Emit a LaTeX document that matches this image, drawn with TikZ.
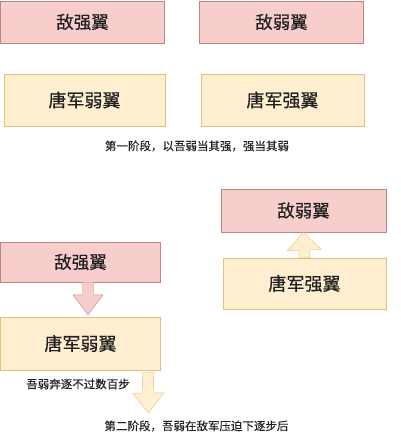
\documentclass[tikz,border=0pt]{standalone}
\usepackage{fontspec}
\newfontfamily\cjk[FakeBold=0.6]{Noto Sans CJK SC}
\newfontfamily\cjksmall[FakeBold=0.3]{Noto Sans CJK SC}
\usetikzlibrary{calc}

\definecolor{pinkfill}{HTML}{F8CECC}
\definecolor{pinkline}{HTML}{BC8686}
\definecolor{yellowfill}{HTML}{FFEFD0}
\definecolor{yellowline}{HTML}{DCC27A}
\definecolor{textdark}{HTML}{222222}

% hollow block arrow: style, from, to, head half width, head length
\newcommand{\blockarrow}[5]{%
  \coordinate (ba-head) at ($(#3)!#5!(#2)$);
  \draw[#1] ($(#2)!5.5pt!90:(#3)$) -- ($(ba-head)!5.5pt!90:(#3)$) -- ($(ba-head)!#4!90:(#3)$)
    -- (#3) -- ($(ba-head)!#4!-90:(#3)$) -- ($(ba-head)!5.5pt!-90:(#3)$) -- ($(#2)!5.5pt!-90:(#3)$) -- cycle;
}

\begin{document}
\begin{tikzpicture}[x=1pt, y=-1pt,
  enemy/.style={rectangle, draw=pinkline, fill=pinkfill, minimum width=164pt, minimum height=42pt, inner sep=0pt, text=textdark, font=\cjk\fontsize{17.5}{20}\selectfont},
  tang/.style={rectangle, draw=yellowline, fill=yellowfill, minimum width=162pt, minimum height=52pt, inner sep=0pt, text=textdark, font=\cjk\fontsize{18}{20}\selectfont},
  caption/.style={inner sep=0pt, text=textdark, font=\cjksmall\fontsize{11.5}{14}\selectfont},
  pinkarrow/.style={draw=pinkline, fill=pinkfill, line join=miter},
  yellowarrow/.style={draw=yellowline, fill=yellowfill, line join=miter}
]
\useasboundingbox (0,0) rectangle (400,432);

% stage one
\node[enemy] (es1) at (82.5,22) {敌强翼};
\node[enemy] (ew1) at (281.5,22) {敌弱翼};
\node[tang, minimum width=161pt] (tw1) at (84.5,100) {唐军弱翼};
\node[tang, minimum width=163pt] (ts1) at (282.5,100) {唐军强翼};
\node[caption] (cap1) at (197,146) {第一阶段，以吾弱当其强，强当其弱};

% stage two
\node[enemy, minimum width=165pt, minimum height=43pt] (ew2) at (303.5,210.5) {敌弱翼};
\node[tang, minimum width=163pt, minimum height=51pt] (ts2) at (304.5,283.5) {唐军强翼};
\node[enemy, minimum width=160pt, minimum height=40pt] (es2) at (80.5,262) {敌强翼};
\node[tang, minimum width=160pt, minimum height=53pt] (tw2) at (80.5,343.5) {唐军弱翼};
\node[caption] (note) at (78,384) {吾弱奔逐不过数百步};
\node[caption] (cap2) at (196.5,426) {第二阶段，吾弱在敌军压迫下逐步后};

% arrows
\coordinate (pinkfrom) at ($(es2.south)+(7.5,0)$);
\coordinate (pinkto) at ($(tw2.north)+(7.5,-2)$);
\coordinate (backfrom) at ($(tw2.south)+(67.5,2)$);
\coordinate (backto) at (148.5,413);
\blockarrow{yellowarrow}{ts2.north}{ew2.south}{17pt}{18pt}
\blockarrow{pinkarrow}{pinkfrom}{pinkto}{15pt}{20pt}
\blockarrow{yellowarrow}{backfrom}{backto}{15.5pt}{20pt}

\end{tikzpicture}
\end{document}
